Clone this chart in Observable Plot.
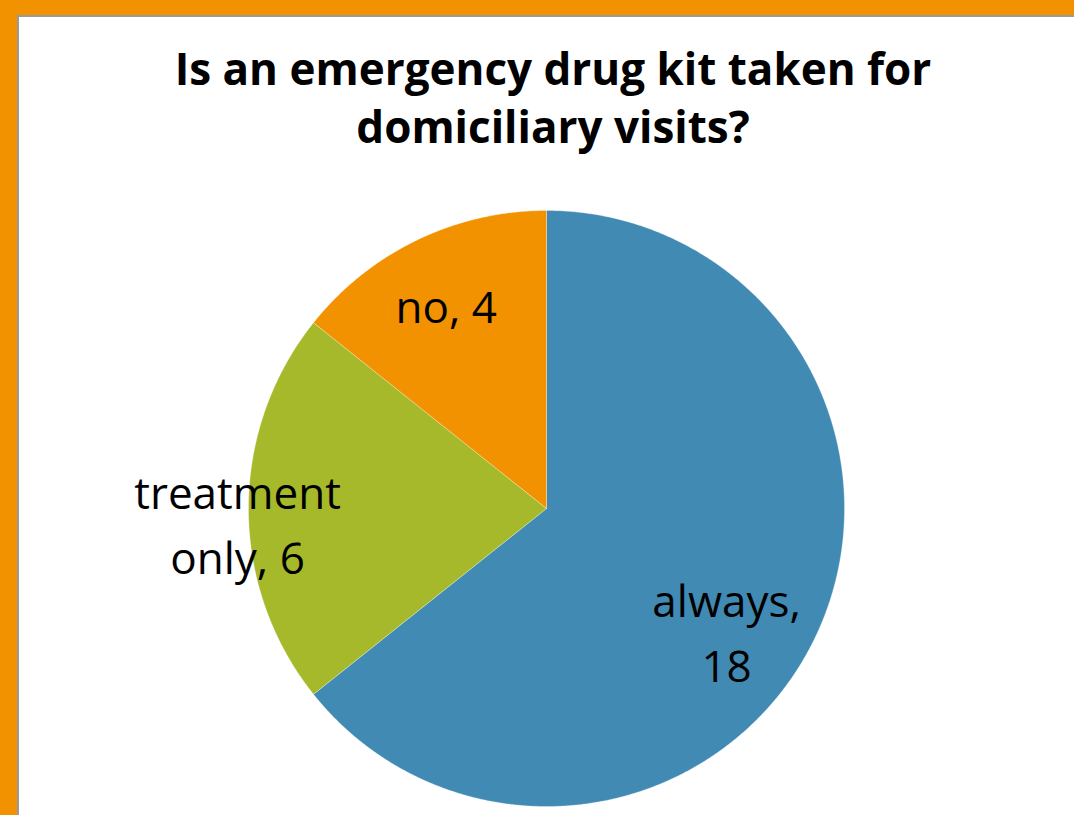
<!DOCTYPE html>
<html>
<head>
<meta charset="utf-8">
<script src="https://cdn.jsdelivr.net/npm/d3@7"></script>
<script src="https://cdn.jsdelivr.net/npm/@observablehq/plot@0.6"></script>
<style>
  html, body { margin: 0; padding: 0; }
  body { width: 1074px; height: 815px; overflow: hidden; background: #f39200; position: relative; font-family: "Open Sans", sans-serif; }
  #panel { position: absolute; left: 17px; top: 15px; right: 0; bottom: 0; background: #fff; border-left: 2px solid #9a9a9a; border-top: 2px solid #9a9a9a; }
  #title { position: absolute; left: 0; width: 1106px; top: 39px; text-align: center; font-weight: 700; font-size: 44px; line-height: 58px; color: #000; }
  #chart { position: absolute; left: 0; top: 0; }
</style>
</head>
<body>
<div id="panel"></div>
<div id="title">Is an emergency drug kit taken for<br>domiciliary visits?</div>
<div id="chart"></div>
<script>
// Data
const categories = ["always", "treatment only", "no"];
const values = [18, 6, 4];
const labelLines = ["always,\n18", "treatment\nonly, 6", "no, 4"];
const colors = ["#418ab3", "#a5b92a", "#f39200"];

// Label nudges (pixels) – layout only
const labelNudge = { "always": [-28, 20], "treatment only": [-78, 12], "no": [0, 2] };

const data = categories.map((c, i) => ({ category: c, value: values[i], label: labelLines[i], color: colors[i] }));
const arcs = d3.pie().sort(null).value(d => d.value).startAngle(0).endAngle(2 * Math.PI)(data);

// Build slice polygons in unit coordinates (x right, y up), clockwise from top
function slicePoints(a) {
  const pts = [{ x: 0, y: 0 }];
  const n = Math.max(2, Math.ceil((a.endAngle - a.startAngle) / 0.005));
  for (let k = 0; k <= n; k++) {
    const t = a.startAngle + (a.endAngle - a.startAngle) * k / n;
    pts.push({ x: Math.sin(t), y: Math.cos(t) });
  }
  pts.push({ x: 0, y: 0 });
  return pts;
}

const labelR = 0.775;
const marks = [];
arcs.forEach(a => {
  marks.push(Plot.line(slicePoints(a), { x: "x", y: "y", fill: a.data.color, stroke: "#ffffff", strokeWidth: 0.6, strokeOpacity: 0.5 }));
});
arcs.forEach(a => {
  const mid = (a.startAngle + a.endAngle) / 2;
  const [dx, dy] = labelNudge[a.data.category];
  marks.push(Plot.text([a.data], {
    x: () => labelR * Math.sin(mid),
    y: () => labelR * Math.cos(mid),
    text: "label",
    dx, dy,
    fontSize: 44,
    fontFamily: "Open Sans",
    fill: "#000",
    lineHeight: 1.48,
    textAnchor: "middle"
  }));
});

const chart = Plot.plot({
  width: 1074,
  height: 815,
  margin: 0,
  style: { background: "transparent", overflow: "visible" },
  x: { domain: [-1, 1], range: [248, 844], axis: null },
  y: { domain: [-1, 1], range: [806, 210], axis: null },
  marks
});
document.getElementById("chart").appendChild(chart);
</script>
</body>
</html>
